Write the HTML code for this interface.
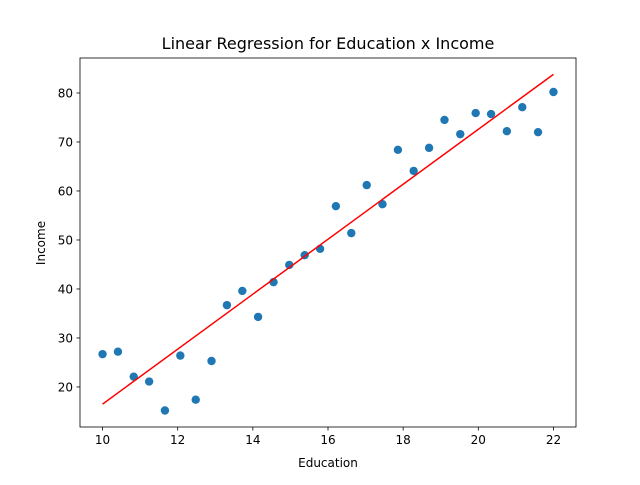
<!DOCTYPE html>
<html><head><meta charset="utf-8"><style>
body{margin:0;background:#fff;font-family:"Liberation Sans","DejaVu Sans",sans-serif;}
svg text{font-family:"DejaVu Sans","Liberation Sans",sans-serif;}
</style></head><body>
<svg id="chart" width="640" height="480"></svg>
<script>
const educationValues=[10,10.41,10.83,11.24,11.66,12.07,12.48,12.9,13.31,13.72,14.14,14.55,14.97,15.38,15.79,16.21,16.62,17.03,17.45,17.86,18.28,18.69,19.1,19.52,19.93,20.34,20.76,21.17,21.59,22];
const incomeValues=[26.7,27.2,22.1,21.1,15.2,26.4,17.4,25.3,36.7,39.6,34.3,41.4,44.9,46.9,48.2,56.9,51.4,61.2,57.3,68.4,64.1,68.8,74.5,71.6,75.9,75.7,72.2,77.1,72.0,80.2];
const regressionX=[10,22];
const regressionY=[16.5,83.8];
const xTicks=[10,12,14,16,18,20,22];
const yTicks=[20,30,40,50,60,70,80];

const NS="http://www.w3.org/2000/svg";
const svg=document.getElementById('chart');
const L=80,R=576,T=58,B=427;
const xMin=9.4,xMax=22.6,yMin=11.83,yMax=87.14;
const sx=v=>L+(v-xMin)/(xMax-xMin)*(R-L);
const sy=v=>B-(v-yMin)/(yMax-yMin)*(B-T);
function mk(tag,attrs,parent){const e=document.createElementNS(NS,tag);for(const k in attrs)e.setAttribute(k,attrs[k]);(parent||svg).appendChild(e);return e;}

const title=mk('text',{x:328,y:49,'text-anchor':'middle','font-size':16,fill:'#000'});


title.textContent='Linear Regression for Education x Income';

const pts=mk('g',{});


educationValues.forEach((x,i)=>{
  const c=mk('circle',{cx:sx(x),cy:sy(incomeValues[i]),r:4.2,fill:'#1f77b4'},pts);
  
  
});

const line=mk('line',{x1:sx(regressionX[0]),y1:sy(regressionY[0]),x2:sx(regressionX[1]),y2:sy(regressionY[1]),stroke:'#ff0000','stroke-width':1.5});



const frame=mk('rect',{x:L,y:T,width:R-L,height:B-T,fill:'none',stroke:'#000','stroke-width':0.8});



xTicks.forEach(t=>{
  const x=sx(t);
  const tk=mk('line',{x1:x,y1:B,x2:x,y2:B+3.5,stroke:'#000','stroke-width':0.8});
  
  
  const lb=mk('text',{x:x,y:B+17,'text-anchor':'middle','font-size':12});
  
  
  lb.textContent=t;
});
yTicks.forEach(t=>{
  const y=sy(t);
  const tk=mk('line',{x1:L-3.5,y1:y,x2:L,y2:y,stroke:'#000','stroke-width':0.8});
  
  
  const lb=mk('text',{x:L-7,y:y+4.5,'text-anchor':'end','font-size':12});
  
  
  lb.textContent=t;
});

const xl=mk('text',{x:328,y:467,'text-anchor':'middle','font-size':12});


xl.textContent='Education';
const yl=mk('text',{x:45,y:243,'text-anchor':'middle','font-size':12,transform:'rotate(-90 45 243)'});


yl.textContent='Income';
</script>
</body></html>
